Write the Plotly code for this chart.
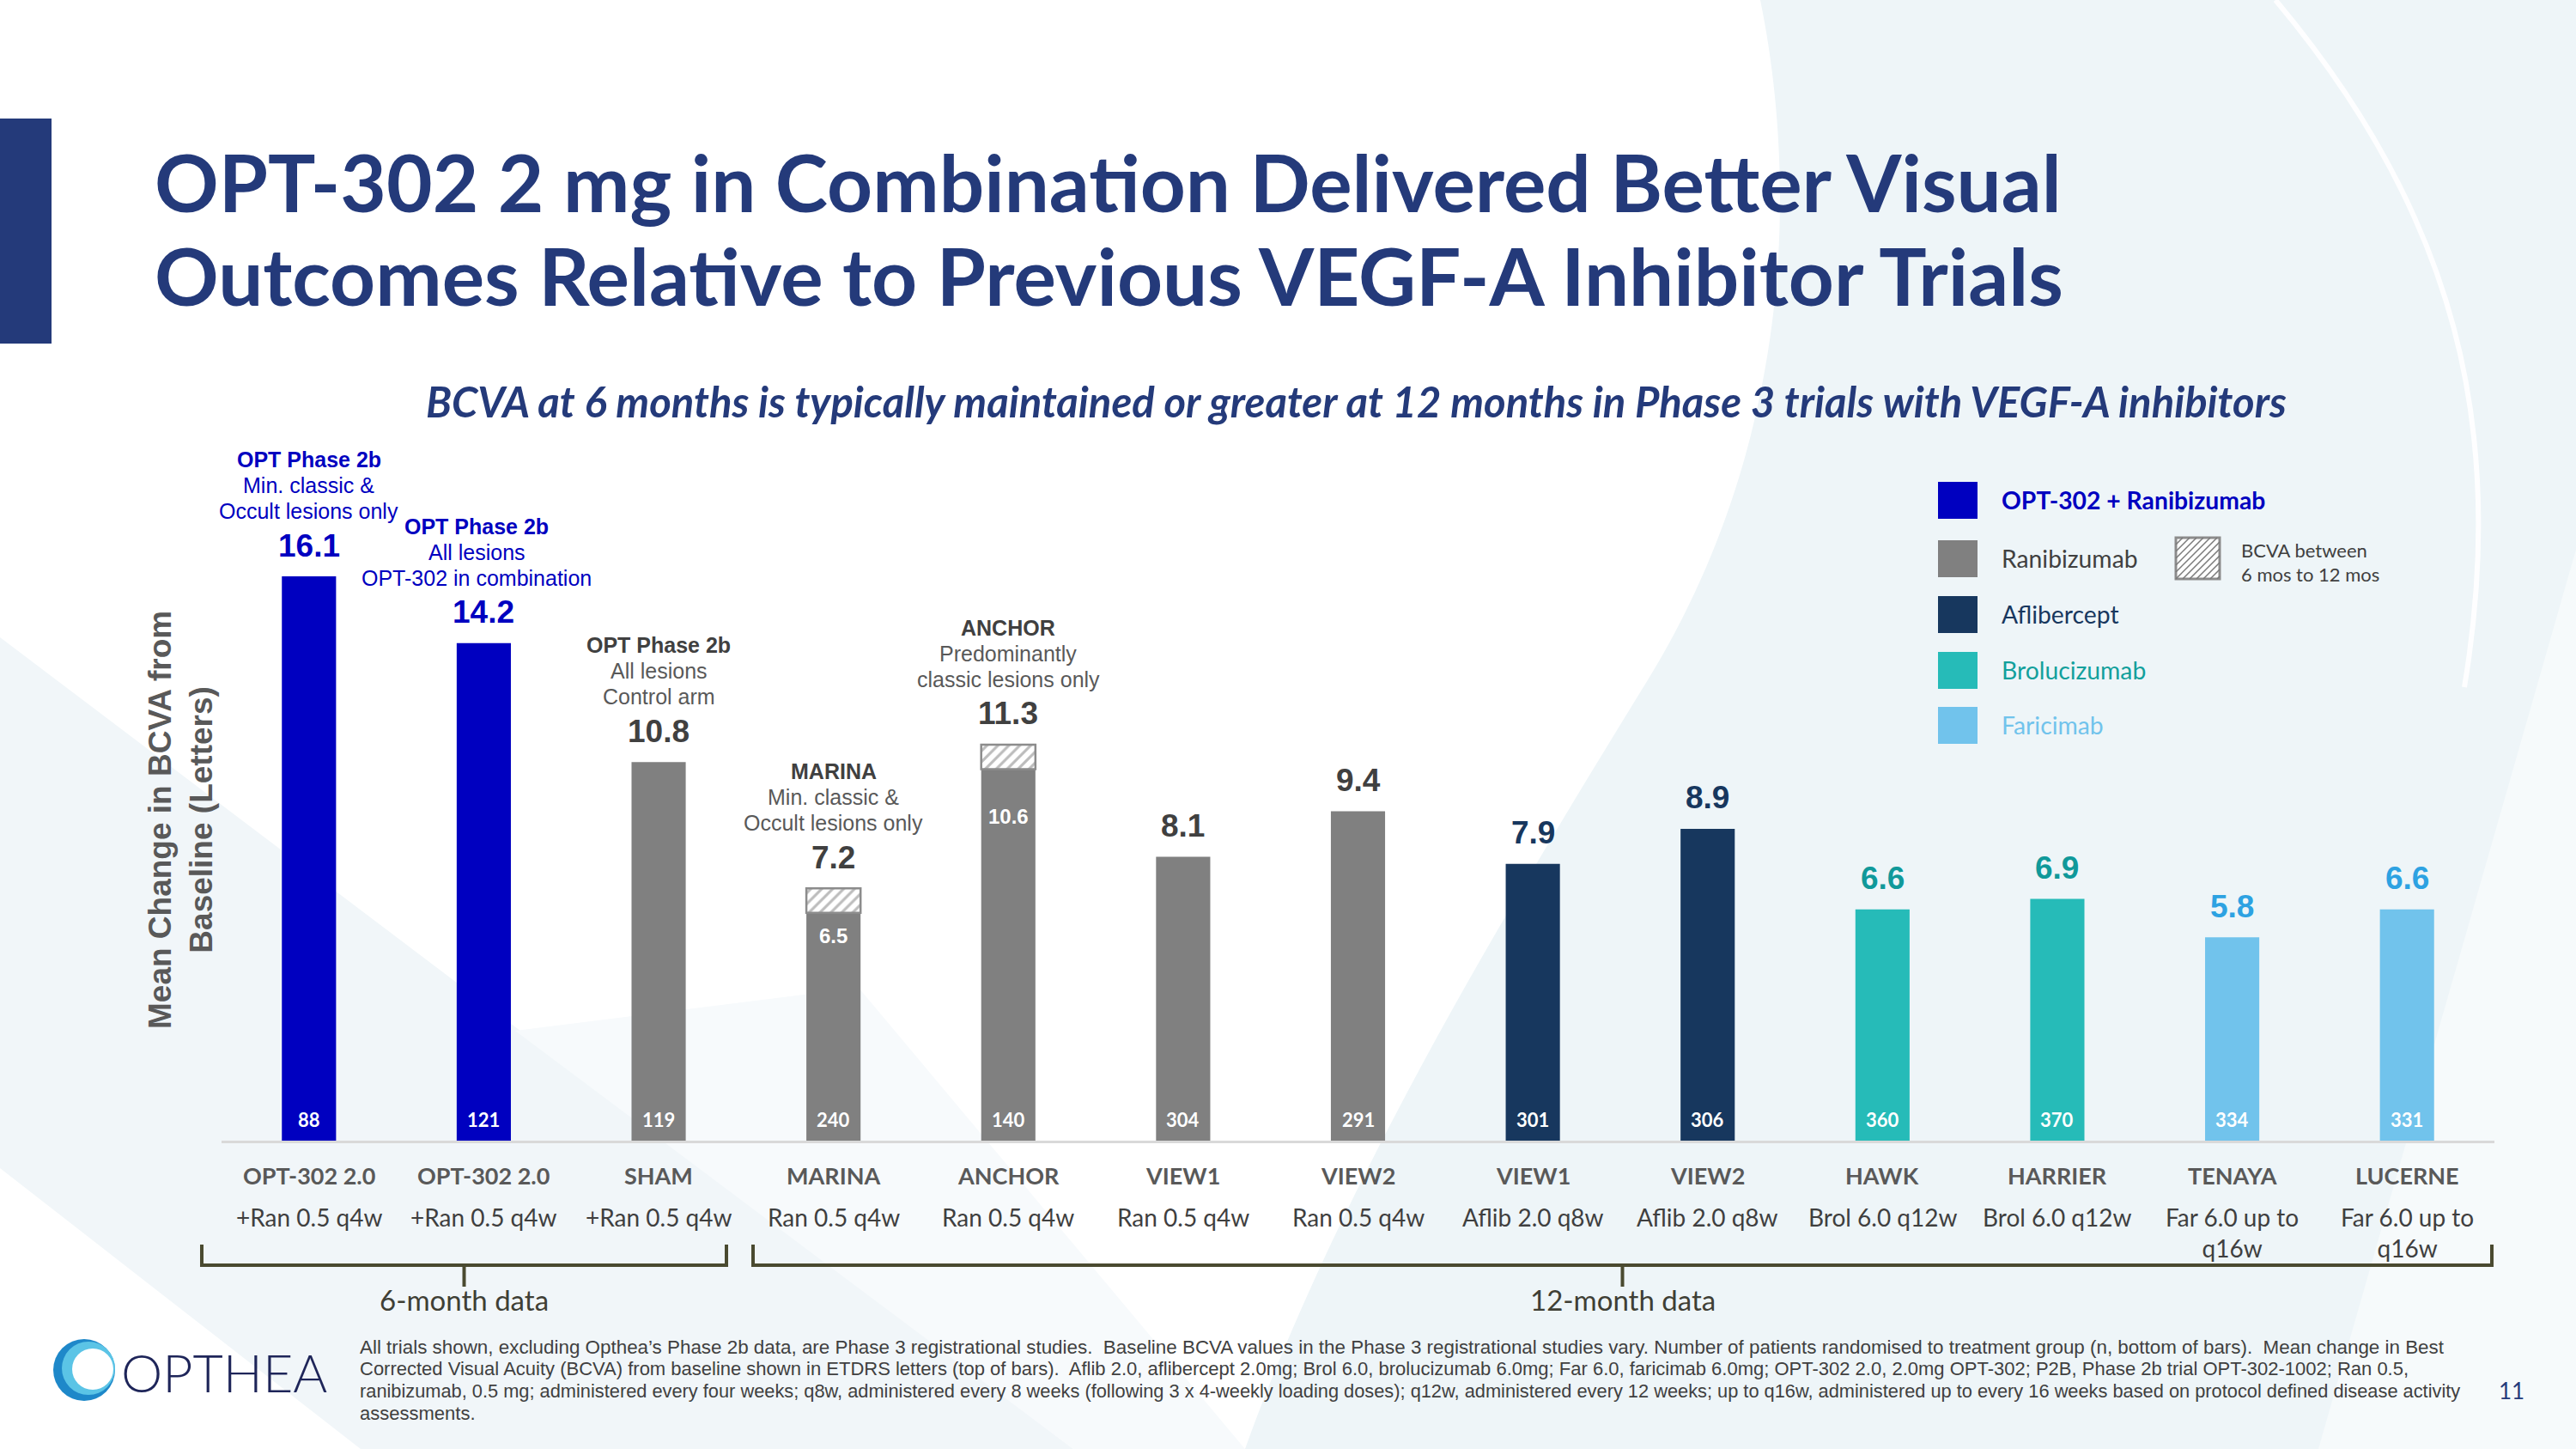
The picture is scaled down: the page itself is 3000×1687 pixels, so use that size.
import plotly.graph_objects as go

W, H = 3000, 1687


def X(px):
    return px / W


def Y(py):
    return 1 - py / H


# ---------------- data ----------------
trials = ["OPT-302 2.0", "OPT-302 2.0", "SHAM", "MARINA", "ANCHOR", "VIEW1", "VIEW2",
          "VIEW1", "VIEW2", "HAWK", "HARRIER", "TENAYA", "LUCERNE"]
regimens = ["+Ran 0.5 q4w", "+Ran 0.5 q4w", "+Ran 0.5 q4w", "Ran 0.5 q4w", "Ran 0.5 q4w",
            "Ran 0.5 q4w", "Ran 0.5 q4w", "Aflib 2.0 q8w", "Aflib 2.0 q8w", "Brol 6.0 q12w",
            "Brol 6.0 q12w", "Far 6.0 up to<br>q16w", "Far 6.0 up to<br>q16w"]
drugs = ["OPT", "OPT", "Ran", "Ran", "Ran", "Ran", "Ran", "Aflib", "Aflib",
         "Brol", "Brol", "Far", "Far"]
bcva_shown = [16.1, 14.2, 10.8, 7.2, 11.3, 8.1, 9.4, 7.9, 8.9, 6.6, 6.9, 5.8, 6.6]
bcva_6mo = [16.1, 14.2, 10.8, 6.5, 10.6, 8.1, 9.4, 7.9, 8.9, 6.6, 6.9, 5.8, 6.6]
n_patients = [88, 121, 119, 240, 140, 304, 291, 301, 306, 360, 370, 334, 331]
descriptions = [
    ["OPT Phase 2b", "Min. classic &", "Occult lesions only"],
    ["OPT Phase 2b", "All lesions", "OPT-302 in combination"],
    ["OPT Phase 2b", "All lesions", "Control arm"],
    ["MARINA", "Min. classic &", "Occult lesions only"],
    ["ANCHOR", "Predominantly", "classic lesions only"],
    [], [], [], [], [], [], [], [],
]
period_labels = ["6-month data", "12-month data"]
legend_labels = ["OPT-302 + Ranibizumab", "Ranibizumab", "Aflibercept", "Brolucizumab", "Faricimab"]
legend_drugs = ["OPT", "Ran", "Aflib", "Brol", "Far"]
footnote_lines = [
    "All trials shown, excluding Opthea’s Phase 2b data, are Phase 3 registrational studies.  Baseline BCVA values in the Phase 3 registrational studies vary. Number of patients randomised to treatment group (n, bottom of bars).  Mean change in Best",
    "Corrected Visual Acuity (BCVA) from baseline shown in ETDRS letters (top of bars).  Aflib 2.0, aflibercept 2.0mg; Brol 6.0, brolucizumab 6.0mg; Far 6.0, faricimab 6.0mg; OPT-302 2.0, 2.0mg OPT-302; P2B, Phase 2b trial OPT-302-1002; Ran 0.5,",
    "ranibizumab, 0.5 mg; administered every four weeks; q8w, administered every 8 weeks (following 3 x 4-weekly loading doses); q12w, administered every 12 weeks; up to q16w, administered up to every 16 weeks based on protocol defined disease activity",
    "assessments.",
]
footnote_sizes = [22.4, 22.0, 21.8, 22.0]

bar_colors = {"OPT": "#0000C0", "Ran": "#808080", "Aflib": "#17375E", "Brol": "#26BBB8", "Far": "#71C3EC"}
value_colors = {"OPT": "#0000C0", "Ran": "#404040", "Aflib": "#17375E", "Brol": "#10999A", "Far": "#2DA2E2"}
legend_text_colors = {"OPT": "#0000C0", "Ran": "#404040", "Aflib": "#17375E", "Brol": "#12A09C", "Far": "#71C3EC"}
desc_colors = {"OPT": ("#0000C0", "#0000C0"), "Ran": ("#404040", "#595959")}

NAVY = "#243A7A"
ARIAL = "Liberation Sans, Arial, sans-serif"
CAL = "Lato, Open Sans, sans-serif"

idx = list(range(len(trials)))
hatch = [round(t - s, 2) if t > s else None for t, s in zip(bcva_shown, bcva_6mo)]

fig = go.Figure()
fig.add_trace(go.Bar(
    x=idx, y=bcva_6mo, width=0.31,
    marker=dict(color=[bar_colors[d] for d in drugs], line=dict(width=0)),
    hoverinfo="skip", showlegend=False,
))
fig.add_trace(go.Bar(
    x=idx, y=hatch, base=bcva_6mo, width=0.31,
    marker=dict(color="white",
                pattern=dict(shape="/", fgcolor="#7a7a7a", bgcolor="white", size=9, solidity=0.35),
                line=dict(color="#8c8c8c", width=2.5)),
    hoverinfo="skip", showlegend=False,
))

annotations = []
shapes = []


def ann(text, x, y, size, color, family=ARIAL, xanchor="center", yanchor="middle",
        xref="paper", yref="paper", weight=None, style=None, textangle=0, yshift=0, xshift=0, align="center"):
    f = dict(size=size, color=color, family=family)
    if weight:
        f["weight"] = weight
    if style:
        f["style"] = style
    annotations.append(dict(text=text, x=x, y=y, xref=xref, yref=yref, showarrow=False,
                            xanchor=xanchor, yanchor=yanchor, font=f, textangle=textangle,
                            yshift=yshift, xshift=xshift, align=align))


def P(x, y):
    return f"{X(x):.5f},{Y(y):.5f}"


# ---------------- background decorations ----------------
shapes.append(dict(type="path", xref="paper", yref="paper", layer="below", line=dict(width=0),
                   fillcolor="#EEF5F8",
                   path=f"M {P(2050,0)} C {P(2095,220)} {P(2085,520)} {P(1920,790)} "
                        f"C {P(1760,1050)} {P(1560,1380)} {P(1450,1687)} L {P(3000,1687)} L {P(3000,0)} Z"))
shapes.append(dict(type="path", xref="paper", yref="paper", layer="below", line=dict(width=0),
                   fillcolor="#F6FAFB",
                   path=f"M {P(3000,640)} L {P(2700,1687)} L {P(3000,1687)} Z"))
shapes.append(dict(type="path", xref="paper", yref="paper", layer="below",
                   line=dict(width=6, color="rgba(255,255,255,0.9)"), fillcolor="rgba(0,0,0,0)",
                   path=f"M {P(2650,0)} C {P(2860,250)} {P(2920,500)} {P(2870,800)}"))
shapes.append(dict(type="path", xref="paper", yref="paper", layer="below", line=dict(width=0),
                   fillcolor="#F1F6F9",
                   path=f"M {P(0,742)} L {P(1250,1687)} L {P(420,1687)} L {P(0,1360)} Z"))
shapes.append(dict(type="path", xref="paper", yref="paper", layer="below", line=dict(width=0),
                   fillcolor="#F7FAFC",
                   path=f"M {P(1250,1687)} L {P(600,1200)} L {P(1000,1150)} L {P(1450,1687)} Z"))

# left accent bar
shapes.append(dict(type="rect", xref="paper", yref="paper", x0=X(0), x1=X(60), y0=Y(400), y1=Y(138),
                   fillcolor=NAVY, line=dict(width=0), layer="above"))

# ---------------- titles ----------------
ann("<b>OPT-302 2 mg in Combination Delivered Better Visual</b>", X(178), Y(211), 92.5, NAVY, CAL, xanchor="left")
ann("<b>Outcomes Relative to Previous VEGF-A Inhibitor Trials</b>", X(178), Y(320), 92.5, NAVY, CAL, xanchor="left")
ann("<b><i>BCVA at 6 months is typically maintained or greater at 12 months in Phase 3 trials with VEGF-A inhibitors</i></b>",
    X(1579), Y(467), 49, NAVY, CAL)

# y axis title
ann("<b>Mean Change in BCVA from<br>Baseline (Letters)</b>", X(210), Y(955), 37, "#595959", ARIAL, textangle=-90)

# ---------------- bar annotations ----------------
for i in idx:
    d = drugs[i]
    top = bcva_shown[i]
    ann(f"<b>{top}</b>", i, top, 37, value_colors[d], ARIAL, xref="x", yref="y", yshift=36)
    ann(f"<b>{n_patients[i]}</b>", i, 0, 22, "white", CAL, xref="x", yref="y", yshift=25)
    lines = descriptions[i]
    if lines:
        c_head, c_body = desc_colors["OPT" if d == "OPT" else "Ran"]
        xs = -8 if i == 1 else 0
        offs = [100, 70, 40]
        for k, (line, off) in enumerate(zip(lines, offs)):
            txt = f"<b>{line}</b>" if k == 0 else line
            ann(txt, i, top, 25, c_head if k == 0 else c_body, ARIAL, xref="x", yref="y",
                yshift=36 + off, xshift=xs)
    if hatch[i] is not None:
        ysh = -27 if bcva_6mo[i] < 8 else -55
        ann(f"<b>{bcva_6mo[i]}</b>", i, bcva_6mo[i], 24, "white", ARIAL, xref="x", yref="y", yshift=ysh)

# ---------------- category labels ----------------
for i in idx:
    ann(f"<b>{trials[i]}</b>", i, Y(1368), 27, "#595959", CAL, xref="x")
    ann(regimens[i], i, Y(1398), 28, "#3F3F3F", CAL, xref="x", yanchor="top")

# brackets (pixel positions)
BR = "#4A4A30"
for (x0, x1), label in zip([(235, 846), (877, 2902)], period_labels):
    xc = (x0 + x1) / 2
    shapes.append(dict(type="path", xref="paper", yref="paper",
                       path=f"M {P(x0,1449)} L {P(x0,1473)} L {P(x1,1473)} L {P(x1,1449)}",
                       line=dict(color=BR, width=4)))
    shapes.append(dict(type="line", xref="paper", yref="paper", x0=X(xc), x1=X(xc), y0=Y(1473), y1=Y(1498),
                       line=dict(color=BR, width=4)))
    ann(label, X(xc), Y(1513), 33, "#3F3F35", CAL)

# ---------------- legend ----------------
rows = [582, 650, 715, 780, 844]
for lab, d, yc in zip(legend_labels, legend_drugs, rows):
    shapes.append(dict(type="rect", xref="paper", yref="paper", x0=X(2257), x1=X(2303),
                       y0=Y(yc + 22), y1=Y(yc - 21), fillcolor=bar_colors[d], line=dict(width=0)))
    ann(f"<b>{lab}</b>" if d == "OPT" else lab, X(2329), Y(yc), 28.3, legend_text_colors[d], CAL, xanchor="left")

# hatched legend square
hx0, hx1, hy0, hy1 = 2534, 2585, 626, 674
shapes.append(dict(type="rect", xref="paper", yref="paper", x0=X(hx0), x1=X(hx1), y0=Y(hy1), y1=Y(hy0),
                   fillcolor="white", line=dict(color="#8c8c8c", width=3)))
segs = []
hh = hy1 - hy0
t = -hh
while t < (hx1 - hx0):
    xa, ya = hx0 + t, hy1
    xb, yb = xa + hh, hy0
    if xa < hx0:
        ya = hy1 - (hx0 - xa)
        xa = hx0
    if xb > hx1:
        yb = hy0 + (xb - hx1)
        xb = hx1
    if xb > xa:
        segs.append(f"M {P(xa, ya)} L {P(xb, yb)}")
    t += 8
shapes.append(dict(type="path", xref="paper", yref="paper", path=" ".join(segs),
                   line=dict(color="#7a7a7a", width=1.5)))
ann("BCVA between", X(2608), Y(640), 22, "#404040", CAL, xanchor="left")
ann("6 mos to 12 mos", X(2608), Y(669), 22, "#404040", CAL, xanchor="left")

# ---------------- footnote & logo ----------------
for k, (line, fs) in enumerate(zip(footnote_lines, footnote_sizes)):
    ann(line, X(417), Y(1568 + 25.7 * k), fs, "#404040", ARIAL, xanchor="left", align="left")
ann("11", X(2925), Y(1619), 26, NAVY, CAL)

shapes.append(dict(type="circle", xref="paper", yref="paper", x0=X(62), x1=X(134), y0=Y(1631), y1=Y(1559),
                   fillcolor="#1E88C9", line=dict(width=0)))
shapes.append(dict(type="circle", xref="paper", yref="paper", x0=X(72), x1=X(134), y0=Y(1624), y1=Y(1562),
                   fillcolor="#5BC4E6", line=dict(width=0)))
shapes.append(dict(type="circle", xref="paper", yref="paper", x0=X(84), x1=X(132), y0=Y(1618), y1=Y(1570),
                   fillcolor="white", line=dict(width=0)))
ann("OPTHEA", X(139), Y(1597), 61, "#1E2559", CAL, xanchor="left", weight=300)

fig.update_layout(
    width=W, height=H,
    margin=dict(l=0, r=0, t=0, b=0),
    paper_bgcolor="white", plot_bgcolor="rgba(0,0,0,0)",
    barmode="overlay", showlegend=False,
    xaxis=dict(domain=[X(258), X(2905)], range=[-0.5, 12.5], showline=True, linecolor="#D9D9D9",
               linewidth=3, showticklabels=False, ticks="", showgrid=False, zeroline=False),
    yaxis=dict(domain=[Y(1328), Y(512)], range=[0, 20], visible=False),
    annotations=annotations, shapes=shapes,
)

fig.write_html("out.html", config={"displayModeBar": False},
               post_script="document.body.style.margin='0';document.body.style.overflow='hidden';")
